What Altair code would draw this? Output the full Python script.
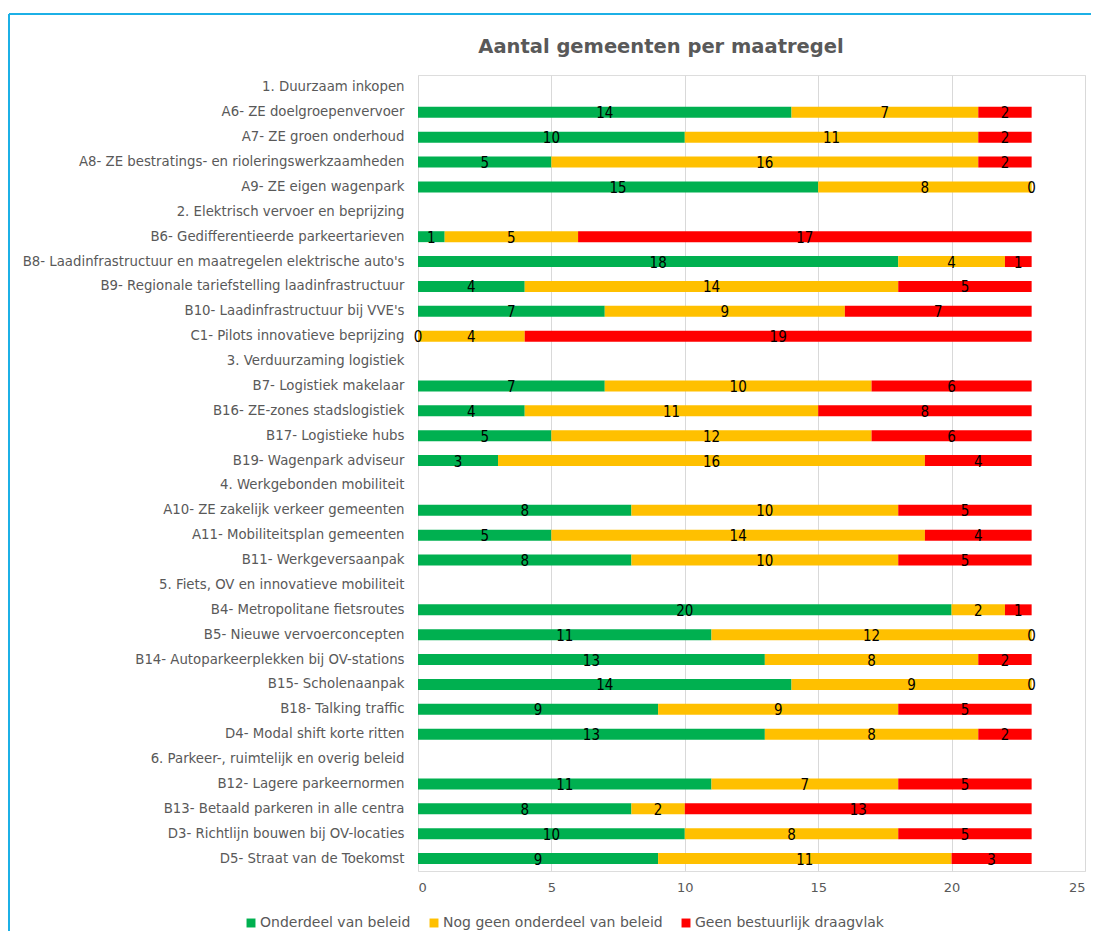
import altair as alt
import pandas as pd

rows = [
    "1. Duurzaam inkopen",
    "A6- ZE doelgroepenvervoer",
    "A7- ZE groen onderhoud",
    "A8- ZE bestratings- en rioleringswerkzaamheden",
    "A9- ZE eigen wagenpark",
    "2. Elektrisch vervoer en beprijzing",
    "B6- Gedifferentieerde parkeertarieven",
    "B8- Laadinfrastructuur en maatregelen elektrische auto's",
    "B9- Regionale tariefstelling laadinfrastructuur",
    "B10- Laadinfrastructuur bij VVE's",
    "C1- Pilots innovatieve beprijzing",
    "3. Verduurzaming logistiek",
    "B7- Logistiek makelaar",
    "B16- ZE-zones stadslogistiek",
    "B17- Logistieke hubs",
    "B19- Wagenpark adviseur",
    "4. Werkgebonden mobiliteit",
    "A10- ZE zakelijk verkeer gemeenten",
    "A11- Mobiliteitsplan gemeenten",
    "B11- Werkgeversaanpak",
    "5. Fiets, OV en innovatieve mobiliteit",
    "B4- Metropolitane fietsroutes",
    "B5- Nieuwe vervoerconcepten",
    "B14- Autoparkeerplekken bij OV-stations",
    "B15- Scholenaanpak",
    "B18- Talking traffic",
    "D4- Modal shift korte ritten",
    "6. Parkeer-, ruimtelijk en overig beleid",
    "B12- Lagere parkeernormen",
    "B13- Betaald parkeren in alle centra",
    "D3- Richtlijn bouwen bij OV-locaties",
    "D5- Straat van de Toekomst",
]

onderdeel = [None, 14, 10, 5, 15, None, 1, 18, 4, 7, 0, None, 7, 4, 5, 3, None, 8, 5, 8,
             None, 20, 11, 13, 14, 9, 13, None, 11, 8, 10, 9]
nog_geen = [None, 7, 11, 16, 8, None, 5, 4, 14, 9, 4, None, 10, 11, 12, 16, None, 10, 14, 10,
            None, 2, 12, 8, 9, 9, 8, None, 7, 2, 8, 11]
geen_draagvlak = [None, 2, 2, 2, 0, None, 17, 1, 5, 7, 19, None, 6, 8, 6, 4, None, 5, 4, 5,
                  None, 1, 0, 2, 0, 5, 2, None, 5, 13, 5, 3]

series = ["Onderdeel van beleid", "Nog geen onderdeel van beleid", "Geen bestuurlijk draagvlak"]
colors = ["#00B050", "#FFC000", "#FF0000"]
ticks = [0, 5, 10, 15, 20, 25]
title_text = "Aantal gemeenten per maatregel"

records = []
for i, r in enumerate(rows):
    for k, vals in enumerate([onderdeel, nog_geen, geen_draagvlak]):
        v = vals[i]
        if v is None:
            continue
        records.append({"row": r, "series": series[k], "ord": k, "value": v})
df = pd.DataFrame(records)

GRAY = "#595959"
NARROW = "Liberation Sans Narrow, DejaVu Sans Condensed, Liberation Sans"

base = alt.Chart(df).transform_stack(
    stack="value", groupby=["row"], as_=["x0", "x1"],
    sort=[alt.SortField("ord", order="ascending")]
).transform_calculate(mid="(datum.x0 + datum.x1) / 2")

yenc = alt.Y("row:N", sort=rows, title=None,
             scale=alt.Scale(domain=rows, paddingInner=0.56, paddingOuter=0.28),
             axis=alt.Axis(ticks=False, domain=False, labelColor=GRAY, labelFontSize=13.3,
                           labelFont="DejaVu Sans", labelPadding=14, labelLimit=500))

bars = base.mark_bar().encode(
    x=alt.X("x0:Q", title=None,
            scale=alt.Scale(domain=[0, 25], nice=False),
            axis=alt.Axis(values=ticks, grid=True, gridColor="#D9D9D9", domain=False,
                          ticks=False, labelColor=GRAY, labelFontSize=13,
                          labelFont="DejaVu Sans", labelPadding=10)),
    x2="x1:Q",
    y=yenc,
    color=alt.Color("series:N", sort=series,
                    scale=alt.Scale(domain=series, range=colors),
                    legend=alt.Legend(title=None, orient="none", direction="horizontal",
                                      legendX=-174, legendY=841, symbolType="square",
                                      symbolSize=80, symbolStrokeWidth=0,
                                      labelFontSize=14, labelColor=GRAY,
                                      labelFont="DejaVu Sans",
                                      labelOffset=2, columnPadding=16, labelLimit=400)),
)

labels = base.mark_text(fontSize=15, color="black", font=NARROW,
                        baseline="middle", dy=1).encode(
    x=alt.X("mid:Q"),
    y=alt.Y("row:N", sort=rows),
    text=alt.Text("value:Q"),
)

one = alt.Data(values=[{"a": 1}])
title = alt.Chart(one).mark_text(fontSize=19.5, fontWeight="bold", color=GRAY,
                                 font="DejaVu Sans", align="center", baseline="middle").encode(
    x=alt.value(243), y=alt.value(-28), text=alt.value(title_text))
top_line = alt.Chart(one).mark_rule(color="#1CB0E6", strokeWidth=2).encode(
    x=alt.value(-409), x2=alt.value(700), y=alt.value(-61))
left_line = alt.Chart(one).mark_rule(color="#1CB0E6", strokeWidth=2).encode(
    x=alt.value(-409), y=alt.value(-61), y2=alt.value(900))

chart = alt.layer(bars, labels, title, top_line, left_line).properties(
    width=667, height=796,
    autosize=alt.AutoSizeParams(type="none"),
    padding={"left": 410, "top": 67, "right": 6, "bottom": 60},
).configure_view(stroke=None).configure(background="white")

chart.save("out.html", embed_options={"renderer": "svg", "actions": False})
